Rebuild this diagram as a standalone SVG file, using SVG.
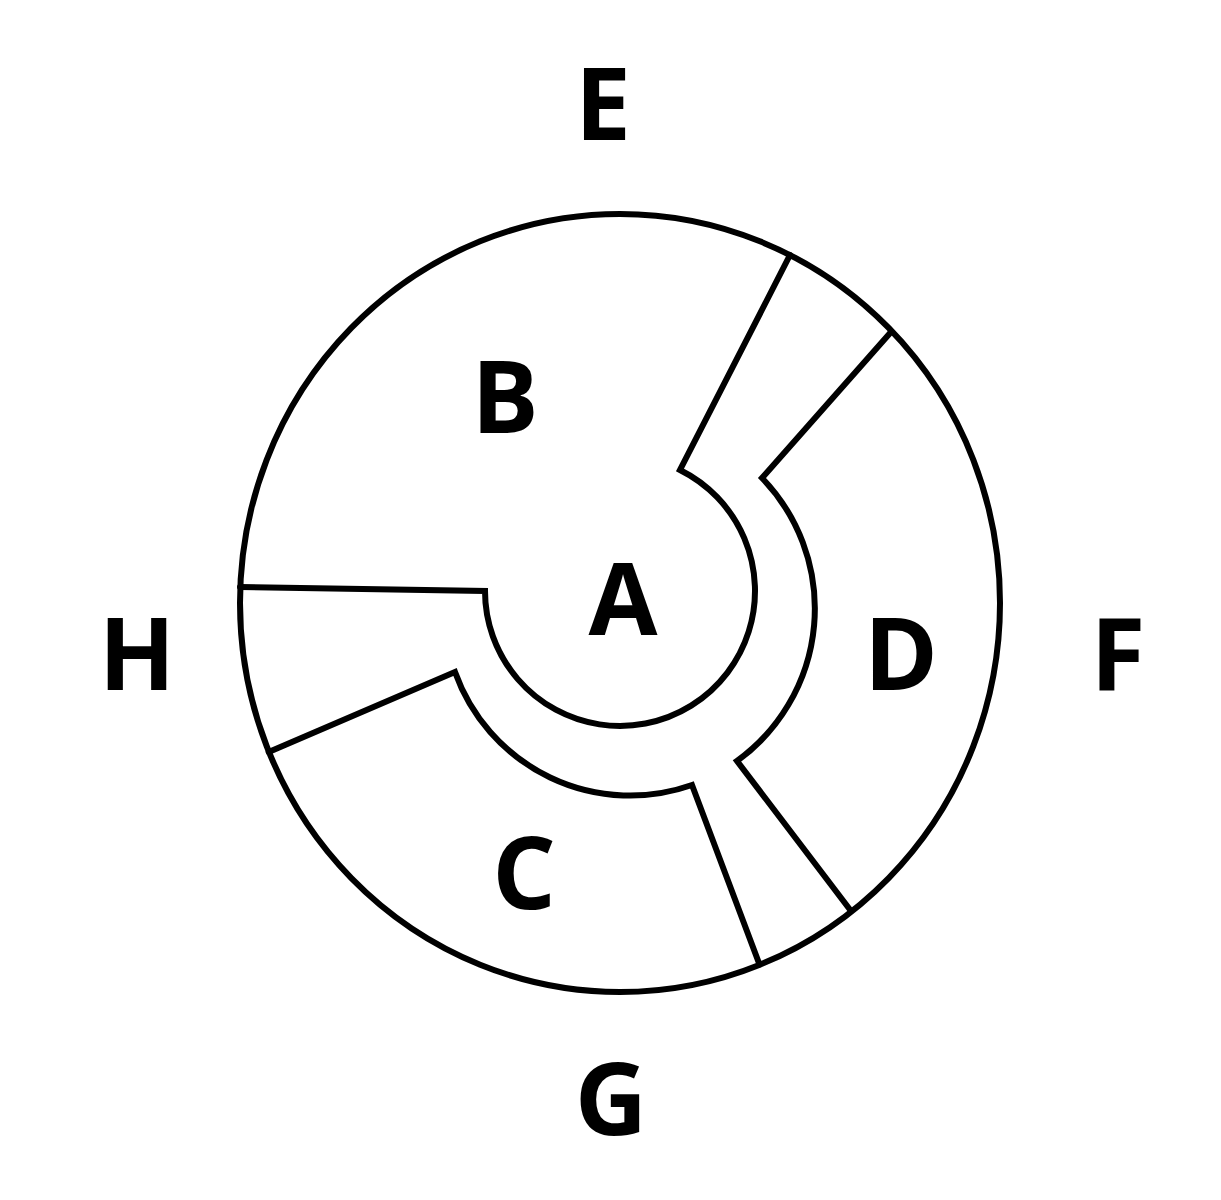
<svg xmlns="http://www.w3.org/2000/svg" width="1221" height="1200" viewBox="0 0 1221 1200">
  <style>
    .wall { fill: none; stroke: #000; stroke-width: 6; stroke-linejoin: miter; stroke-linecap: round; }
    .lbl { font-family: "Open Sans", "Liberation Sans", sans-serif; font-weight: bold; font-size: 100px; fill: #000; text-anchor: middle; }
  </style>
  <rect width="1221" height="1200" fill="#fff"/>
  <g id="plan">
    <ellipse class="wall" cx="620" cy="603" rx="380" ry="389"/>
    <path id="wall-A" class="wall" d="M790,255 L680,470 A135,135 0 1 1 485,591 L240,587"/>
    <path id="wall-D" class="wall" d="M891,332 L762,478 A188,188 0 0 1 737,761 L851,911"/>
    <path id="wall-C" class="wall" d="M268.7,752 L455,672 A186,186 0 0 0 692,785 L759.5,964.5"/>
  </g>
  <g id="labels">
    <text id="label-E" class="lbl" x="603" y="140">E</text>
    <text id="label-B" class="lbl" x="505" y="433">B</text>
    <text id="label-A" class="lbl" x="623" y="635">A</text>
    <text id="label-H" class="lbl" x="137" y="690">H</text>
    <text id="label-D" class="lbl" x="901" y="690">D</text>
    <text id="label-F" class="lbl" x="1118" y="690">F</text>
    <text id="label-C" class="lbl" x="524" y="909">C</text>
    <text id="label-G" class="lbl" x="611" y="1135">G</text>
  </g>
</svg>
